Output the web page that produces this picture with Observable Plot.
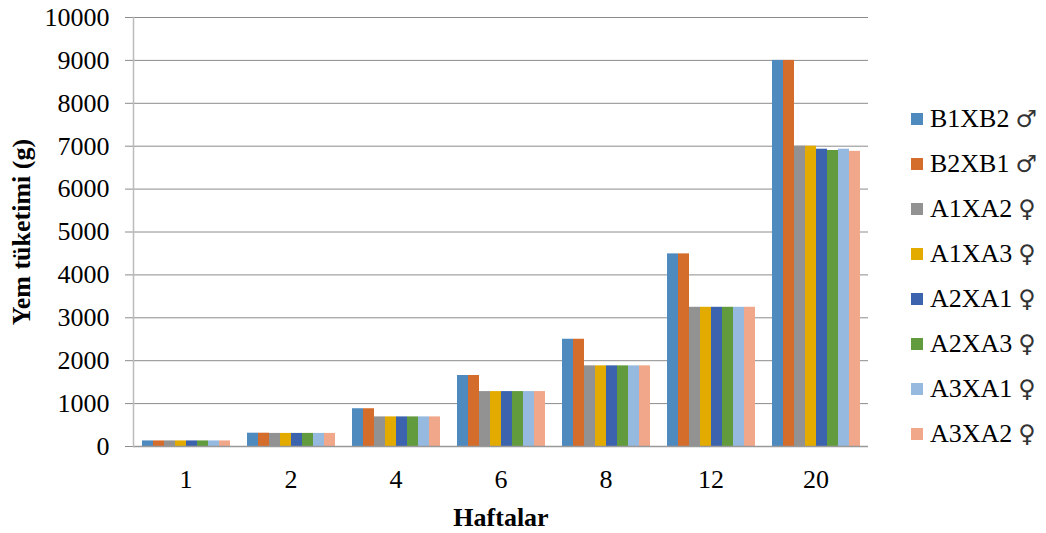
<!DOCTYPE html>
<html>
<head>
<meta charset="utf-8">
<script src="https://cdn.jsdelivr.net/npm/d3@7"></script>
<script src="https://cdn.jsdelivr.net/npm/@observablehq/plot@0.6"></script>
<style>
  html, body { margin: 0; padding: 0; background: #fff; }
  #wrap { position: relative; width: 1046px; height: 533px; font-family: "Liberation Serif", "Times New Roman", serif; }
  #wrap svg text { font-family: "Liberation Serif", "Times New Roman", serif; }
  g[aria-label="y-axis label"] text, g[aria-label="fx-axis label"] text { font-weight: bold; }
  #legend { position: absolute; left: 911px; top: 96px; display: flex; flex-direction: column; }
  .item { display: flex; align-items: center; height: 45px; font-size: 26px; color: #000; white-space: nowrap; }
  .sw { width: 12px; height: 12px; margin-right: 7px; flex: none; }
  .sym { font-family: "DejaVu Sans", sans-serif; font-size: 24px; color: #333; margin-left: 6px; }
</style>
</head>
<body>
<div id="wrap"></div>
<script>
const weeks = ["1", "2", "4", "6", "8", "12", "20"];
const series = ["B1XB2", "B2XB1", "A1XA2", "A1XA3", "A2XA1", "A2XA3", "A3XA1", "A3XA2"];
const symbols = ["♂", "♂", "♀", "♀", "♀", "♀", "♀", "♀"];
const colors = ["#4F8ABE", "#D46D2B", "#929292", "#E3AA00", "#3C63AD", "#629A3E", "#96B9E0", "#F0A78A"];

const B1XB2 = [130, 310, 880, 1655, 2500, 4490, 9000];
const B2XB1 = [130, 310, 880, 1655, 2500, 4490, 9000];
const A1XA2 = [130, 305, 690, 1280, 1880, 3245, 7000];
const A1XA3 = [130, 305, 690, 1280, 1880, 3245, 7000];
const A2XA1 = [130, 305, 690, 1280, 1880, 3245, 6930];
const A2XA3 = [130, 305, 690, 1280, 1880, 3245, 6900];
const A3XA1 = [130, 305, 690, 1280, 1880, 3245, 6930];
const A3XA2 = [130, 305, 690, 1280, 1880, 3245, 6880];

const values = [B1XB2, B2XB1, A1XA2, A1XA3, A2XA1, A2XA3, A3XA1, A3XA2];
const data = [];
series.forEach((s, i) => weeks.forEach((w, j) => data.push({week: w, series: s, value: values[i][j]})));

const chart = Plot.plot({
  width: 1046,
  height: 533,
  marginLeft: 133,
  marginRight: 178,
  marginTop: 17,
  marginBottom: 87,
  style: {fontFamily: "Liberation Serif, Times New Roman, serif", fontSize: "26px", color: "#000", background: "#fff", overflow: "visible"},
  fx: {domain: weeks, padding: 0},
  x: {domain: series, paddingInner: 0.03, paddingOuter: 0.72, axis: null},
  y: {domain: [0, 10000]},
  color: {domain: series, range: colors},
  marks: [
    Plot.gridY({ticks: 10, stroke: "#8c8c8c", strokeOpacity: 1, strokeWidth: 1}),
    Plot.axisY({ticks: 10, tickSize: 8, tickPadding: 16, stroke: "#8c8c8c", strokeOpacity: 1, fill: "#000",
      tickFormat: d => String(d), label: "Yem tüketimi (g)", labelAnchor: "center", labelOffset: 122, labelArrow: "none"}),
    Plot.axisFx({anchor: "bottom", tickSize: 0, tickPadding: 23, fill: "#000", label: "Haftalar", labelAnchor: "center", labelOffset: 79, labelArrow: "none"}),
    Plot.barY(data, {fx: "week", x: "series", y: "value", fill: "series"}),
    Plot.ruleY([0], {stroke: "#999", strokeWidth: 1.5}),
    Plot.frame({anchor: "left", facetAnchor: "left", stroke: "#bbb", strokeWidth: 1.5})
  ]
});
document.getElementById("wrap").appendChild(chart);

const legend = document.createElement("div");
legend.id = "legend";
series.forEach((s, i) => {
  const item = document.createElement("div");
  item.className = "item";
  const sw = document.createElement("span");
  sw.className = "sw";
  sw.style.background = colors[i];
  const t = document.createElement("span");
  t.textContent = s;
  const sym = document.createElement("span");
  sym.className = "sym";
  sym.textContent = symbols[i];
  item.append(sw, t, sym);
  legend.appendChild(item);
});
document.getElementById("wrap").appendChild(legend);
</script>
</body>
</html>
